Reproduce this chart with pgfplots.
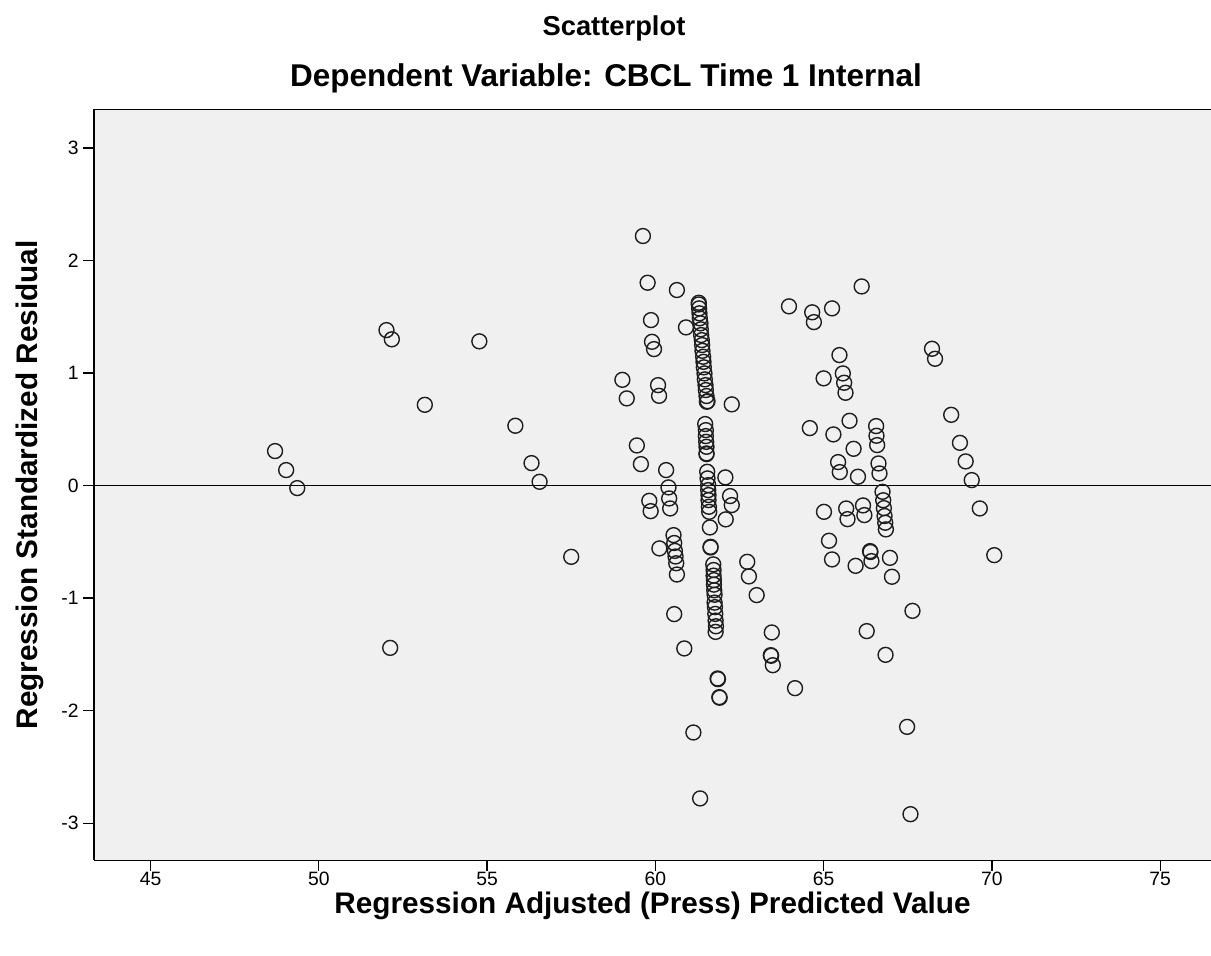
\documentclass[border=0pt]{standalone}
\usepackage{fontspec}
\setmainfont{Liberation Sans}
\usepackage{pgfplots}
\pgfplotsset{compat=1.18}
\usetikzlibrary{calc}
\definecolor{plotbg}{RGB}{240,240,240}
\definecolor{ringcol}{RGB}{30,30,30}

% residuals vs adjusted predicted values
\pgfplotstableread{
x y
48.70 0.307
49.03 0.138
49.36 -0.022
52.01 1.382
52.17 1.300
52.12 -1.442
53.15 0.718
54.77 1.282
55.84 0.532
56.32 0.200
56.56 0.034
57.50 -0.633
59.63 2.218
59.77 1.803
59.87 1.471
59.90 1.278
59.96 1.213
59.02 0.940
59.15 0.775
60.08 0.893
60.11 0.798
59.45 0.357
59.57 0.191
60.32 0.138
60.39 -0.016
60.41 -0.114
60.44 -0.203
59.82 -0.135
59.86 -0.227
60.12 -0.558
60.54 -0.440
60.56 -0.510
60.58 -0.580
60.60 -0.630
60.62 -0.690
60.64 -0.790
60.56 -1.142
60.86 -1.447
60.64 1.738
60.91 1.406
61.29 1.625
61.29 1.610
61.30 1.575
61.31 1.531
61.32 1.487
61.34 1.442
61.35 1.389
61.36 1.338
61.38 1.293
61.39 1.249
61.40 1.198
61.42 1.145
61.43 1.100
61.44 1.051
61.46 0.997
61.47 0.944
61.49 0.893
61.50 0.849
61.52 0.796
61.53 0.745
61.55 0.750
61.48 0.547
61.50 0.493
61.50 0.440
61.51 0.389
61.52 0.345
61.52 0.286
61.52 0.280
61.54 0.123
61.55 0.064
61.57 0.004
61.57 -0.040
61.58 -0.084
61.58 -0.129
61.59 -0.188
61.60 -0.233
61.62 -0.372
61.64 -0.544
61.64 -0.550
61.72 -0.700
61.73 -0.750
61.73 -0.800
61.74 -0.840
61.74 -0.880
61.75 -0.930
61.76 -0.970
61.76 -1.040
61.77 -1.080
61.78 -1.140
61.79 -1.200
61.80 -1.250
61.79 -1.300
61.85 -1.714
61.86 -1.720
61.90 -1.880
61.91 -1.885
61.13 -2.194
61.33 -2.780
62.27 0.722
62.08 0.073
62.22 -0.093
62.27 -0.173
62.09 -0.300
62.73 -0.677
62.78 -0.807
63.01 -0.973
63.46 -1.305
63.43 -1.507
63.44 -1.512
63.49 -1.596
64.15 -1.800
63.97 1.593
64.66 1.540
64.71 1.453
65.25 1.575
66.13 1.770
65.47 1.160
65.57 0.997
65.61 0.914
65.65 0.825
65.00 0.953
64.59 0.511
65.29 0.455
65.77 0.576
65.89 0.327
65.43 0.209
65.48 0.120
66.02 0.079
66.56 0.529
66.57 0.443
66.59 0.360
66.63 0.197
66.66 0.108
66.75 -0.055
66.77 -0.130
66.79 -0.200
66.81 -0.270
66.83 -0.330
66.85 -0.389
65.01 -0.233
65.67 -0.203
65.71 -0.298
66.17 -0.176
66.21 -0.262
65.16 -0.490
65.25 -0.656
65.95 -0.713
66.38 -0.582
66.39 -0.590
66.42 -0.671
66.97 -0.642
67.03 -0.810
67.64 -1.113
66.28 -1.293
66.84 -1.504
67.48 -2.144
67.58 -2.920
68.22 1.216
68.31 1.127
68.79 0.629
69.05 0.380
69.22 0.215
69.40 0.049
69.64 -0.203
70.07 -0.618
}\residuals

\begin{document}
\begin{tikzpicture}
\begin{axis}[
    scale only axis,
    width=837.75pt, height=563.25pt,
    xmin=43.32, xmax=76.51,
    ymin=-3.33, ymax=3.344,
    xtick={45,50,...,75},
    ytick={-3,-2,...,3},
    axis x line=box, axis y line=left,
    y axis line style={-},
    xtick pos=bottom, ytick pos=left,
    tick align=outside,
    major tick length=8pt,
    tick style={black, line width=1pt},
    axis line style={black, line width=1.1pt},
    axis background/.style={fill=plotbg},
    tick label style={font=\fontsize{14.5}{16}\selectfont},
    xticklabel style={yshift=2.5pt},
    /pgf/number format/assume math mode=true,
    xlabel={Regression Adjusted (Press) Predicted Value},
    ylabel={Regression Standardized Residual},
    every axis x label/.style={at={(rel axis cs:0.5,0)}, yshift=-34pt,
        anchor=center, font=\bfseries\fontsize{22.3}{26}\selectfont},
    every axis y label/.style={at={(rel axis cs:0,0.5)}, xshift=-48pt,
        anchor=center, rotate=90, font=\bfseries\fontsize{22.3}{26}\selectfont},
]
\coordinate (tl) at (rel axis cs:0,1);
\coordinate (br) at (rel axis cs:1,0);
\draw[black, line width=1.1pt] (axis cs:43.32,0) -- (axis cs:76.51,0);
\addplot[only marks, mark=o, mark size=5.6pt,
    mark options={ringcol, line width=1.05pt}] table {\residuals};
\end{axis}
\node[font=\bfseries\fontsize{20.5}{24}\selectfont] at ($(tl)+(390pt,61pt)$) {Scatterplot};
\node[font=\bfseries\fontsize{23.6}{26}\selectfont] at ($(tl)+(384pt,23.5pt)$) {Dependent Variable: CBCL Time 1 Internal};
\pgfresetboundingbox
\useasboundingbox ($(tl)+(-70.5pt,82pt)$) rectangle ($(br)+(0,-71.25pt)$);
\end{tikzpicture}
\end{document}
